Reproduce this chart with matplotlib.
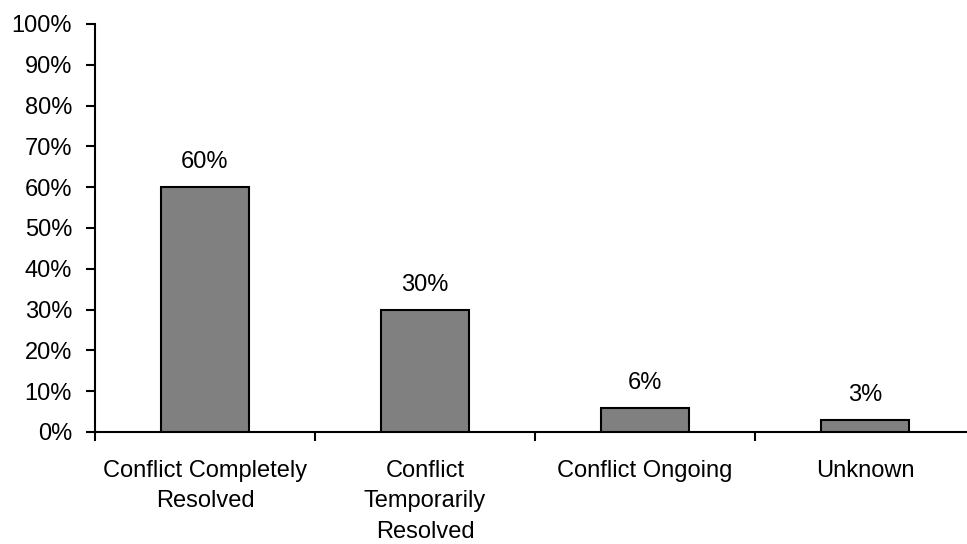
import numpy as np
import matplotlib.pyplot as plt
from matplotlib.ticker import PercentFormatter

plt.rcParams['font.family'] = ['Liberation Sans', 'DejaVu Sans']

categories = ['Conflict Completely\nResolved', 'Conflict\nTemporarily\nResolved',
              'Conflict Ongoing', 'Unknown']
values = [60, 30, 6, 3]
value_labels = ['60%', '30%', '6%', '3%']

fs = 17

fig = plt.figure(figsize=(9.67, 5.44), dpi=100)
ax = fig.add_axes([95 / 967, 112 / 544, 880 / 967, 408 / 544])

x = np.arange(len(categories))
rects = ax.bar(x, values, 0.4, color='#808080', edgecolor='black', linewidth=1.5, zorder=3)
ax.bar_label(rects, labels=value_labels, padding=10, fontsize=fs)

ax.set_xlim(-0.5, len(categories) - 0.5)
ax.set_ylim(0, 100)
ax.set_yticks(np.arange(0, 101, 10))
ax.yaxis.set_major_formatter(PercentFormatter(decimals=0))

ax.set_xticks(x, categories, fontsize=fs, linespacing=1.5)
ax.set_xticks(np.arange(-0.5, len(categories)), minor=True)
ax.tick_params(axis='x', which='major', length=0, pad=20)
ax.tick_params(axis='x', which='minor', length=6.5, width=1.5, direction='out')
ax.tick_params(axis='y', length=6.5, width=1.5, direction='out', labelsize=fs, pad=10)

for side in ['top', 'right']:
    ax.spines[side].set_visible(False)
for side in ['left', 'bottom']:
    ax.spines[side].set_linewidth(1.5)

fig.savefig('out.png', dpi=100)
